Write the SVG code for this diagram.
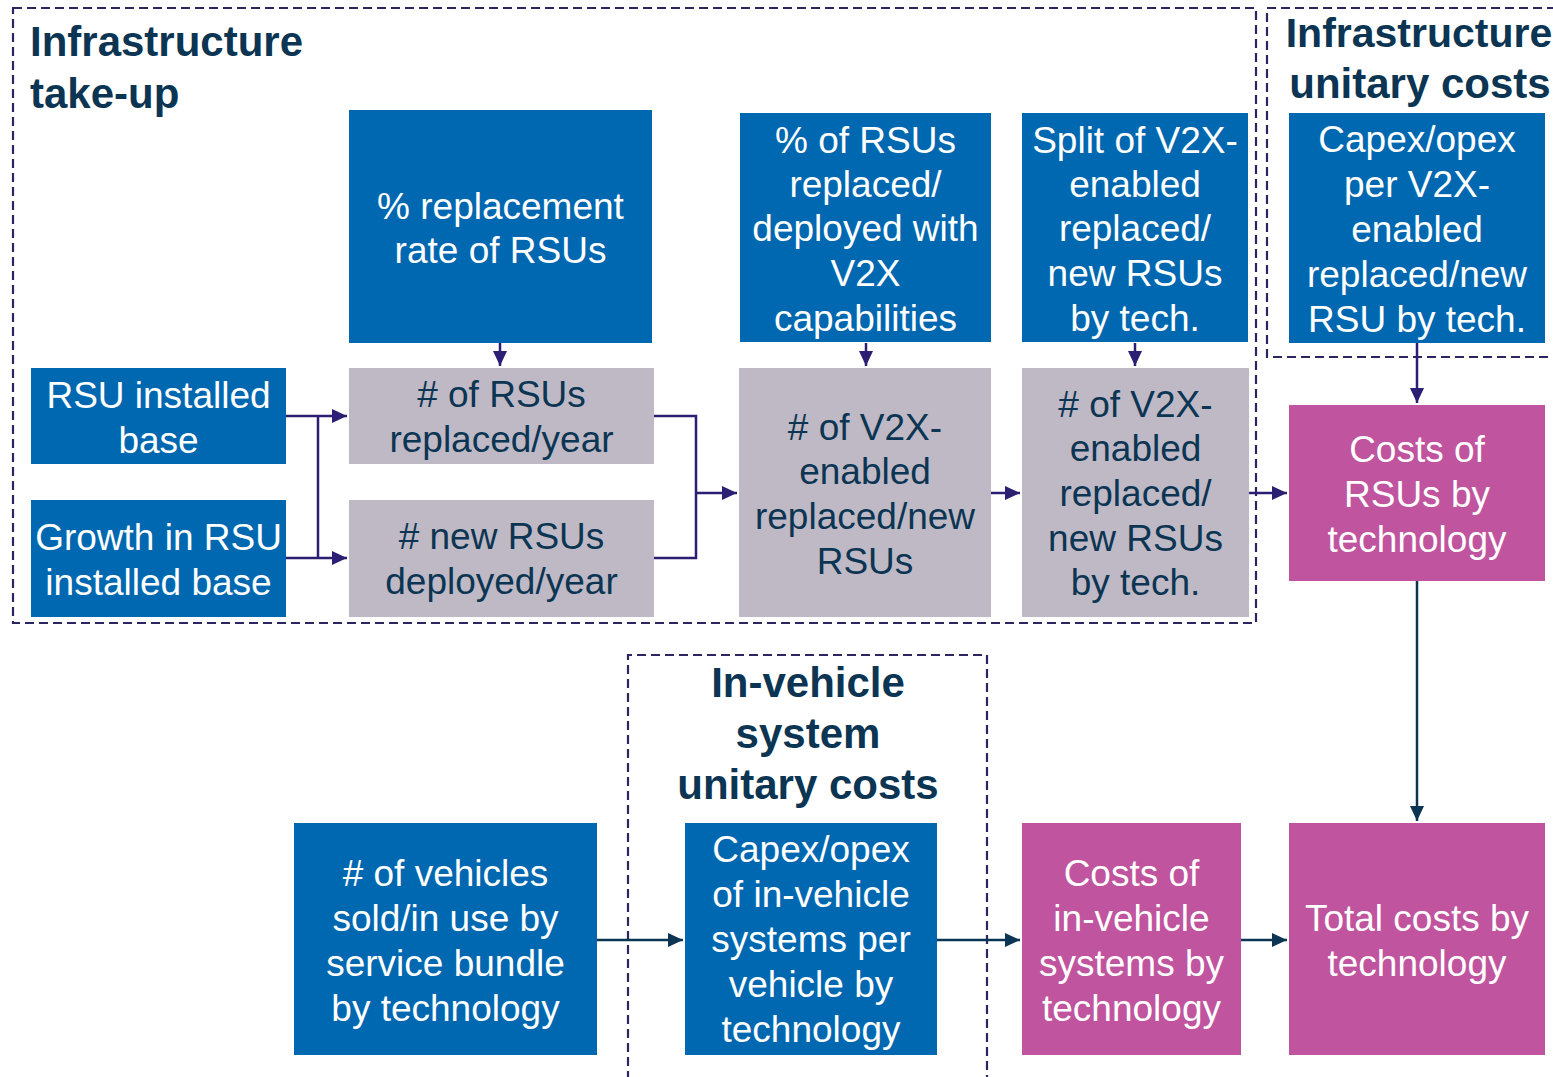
<svg xmlns="http://www.w3.org/2000/svg" width="1553" height="1077" viewBox="0 0 1553 1077">
<style>
text{font-family:"Liberation Sans",Arial,sans-serif;font-size:37px;text-anchor:middle}
.b{fill:#0068B0}
.g{fill:#BFB9C6}
.m{fill:#C0549E}
.tw{fill:#ffffff}
.td{fill:#0B3552}
.title{font-weight:bold;font-size:42px;fill:#0B3552}
.dash{fill:none;stroke:#2B2560;stroke-width:2.2;stroke-dasharray:9 5}
.c1{fill:none;stroke:#2B1F73;stroke-width:2.5}
.c2{fill:none;stroke:#0B3552;stroke-width:2.5}
</style>
<defs>
<marker id="a1" markerUnits="userSpaceOnUse" markerWidth="16" markerHeight="14" refX="15" refY="7" orient="auto"><path d="M0,0 L15,7 L0,14 Z" fill="#2B1F73"/></marker>
<marker id="a2" markerUnits="userSpaceOnUse" markerWidth="16" markerHeight="14" refX="15" refY="7" orient="auto"><path d="M0,0 L15,7 L0,14 Z" fill="#0B3552"/></marker>
</defs>
<rect width="1553" height="1077" fill="#ffffff"/>
<g id="groups">
<rect class="dash" x="13" y="8" width="1243" height="615"/>
<path class="dash" d="M1556,8 H1267 V357 H1556"/>
<path class="dash" d="M628,1080 V655 H987 V1080"/>
<text class="title" x="30" y="56" style="text-anchor:start">Infrastructure</text>
<text class="title" x="30" y="108" style="text-anchor:start">take-up</text>
<text class="title" x="1419" y="47" style="font-size:41px">Infrastructure</text>
<text class="title" x="1420" y="98">unitary costs</text>
<text class="title" x="808" y="697">In-vehicle</text>
<text class="title" x="808" y="748">system</text>
<text class="title" x="808" y="799">unitary costs</text>
</g>
<g id="connectors">
<path class="c1" d="M286,416 H347" marker-end="url(#a1)"/>
<path class="c1" d="M318,416 V558"/>
<path class="c1" d="M286,558 H347" marker-end="url(#a1)"/>
<path class="c1" d="M654,416 H696 V558 H654"/>
<path class="c1" d="M696,493 H737" marker-end="url(#a1)"/>
<path class="c1" d="M500,343 V366" marker-end="url(#a1)"/>
<path class="c1" d="M866,343 V366" marker-end="url(#a1)"/>
<path class="c1" d="M1135,343 V366" marker-end="url(#a1)"/>
<path class="c1" d="M991,493 H1020" marker-end="url(#a1)"/>
<path class="c1" d="M1249,493 H1287" marker-end="url(#a1)"/>
<path class="c1" d="M1417,343 V403" marker-end="url(#a1)"/>
<path class="c2" d="M1417,581 V821" marker-end="url(#a2)"/>
<path class="c2" d="M597,940 H683" marker-end="url(#a2)"/>
<path class="c2" d="M937,940 H1020" marker-end="url(#a2)"/>
<path class="c2" d="M1241,940 H1287" marker-end="url(#a2)"/>
</g>
<g id="rsu-base">
<rect class="b" x="31" y="368" width="255" height="96"/>
<text class="tw" x="158.5" y="408">RSU installed</text>
<text class="tw" x="158.5" y="453">base</text>
</g>
<g id="rsu-growth">
<rect class="b" x="31" y="500" width="255" height="117"/>
<text class="tw" x="158.5" y="550">Growth in RSU</text>
<text class="tw" x="158.5" y="595">installed base</text>
</g>
<g id="replacement-rate">
<rect class="b" x="349" y="110" width="303" height="233"/>
<text class="tw" x="500.5" y="219">% replacement</text>
<text class="tw" x="500.5" y="263">rate of RSUs</text>
</g>
<g id="rsus-replaced">
<rect class="g" x="349" y="368" width="305" height="96"/>
<text class="td" x="501.5" y="407"># of RSUs</text>
<text class="td" x="501.5" y="452">replaced/year</text>
</g>
<g id="rsus-new">
<rect class="g" x="349" y="500" width="305" height="117"/>
<text class="td" x="501.5" y="549"># new RSUs</text>
<text class="td" x="501.5" y="594">deployed/year</text>
</g>
<g id="pct-v2x">
<rect class="b" x="740" y="113" width="251" height="229"/>
<text class="tw" x="865.5" y="153">% of RSUs</text>
<text class="tw" x="865.5" y="197">replaced/</text>
<text class="tw" x="865.5" y="241">deployed with</text>
<text class="tw" x="865.5" y="286">V2X</text>
<text class="tw" x="865.5" y="331">capabilities</text>
</g>
<g id="v2x-enabled">
<rect class="g" x="739" y="368" width="252" height="249"/>
<text class="td" x="865" y="440"># of V2X-</text>
<text class="td" x="865" y="484">enabled</text>
<text class="td" x="865" y="529">replaced/new</text>
<text class="td" x="865" y="574">RSUs</text>
</g>
<g id="split-tech">
<rect class="b" x="1022" y="113" width="226" height="229"/>
<text class="tw" x="1135" y="153">Split of V2X-</text>
<text class="tw" x="1135" y="197">enabled</text>
<text class="tw" x="1135" y="241">replaced/</text>
<text class="tw" x="1135" y="286">new RSUs</text>
<text class="tw" x="1135" y="331">by tech.</text>
</g>
<g id="v2x-by-tech">
<rect class="g" x="1022" y="368" width="227" height="249"/>
<text class="td" x="1135.5" y="417"># of V2X-</text>
<text class="td" x="1135.5" y="461">enabled</text>
<text class="td" x="1135.5" y="506">replaced/</text>
<text class="td" x="1135.5" y="551">new RSUs</text>
<text class="td" x="1135.5" y="595">by tech.</text>
</g>
<g id="capex-rsu">
<rect class="b" x="1289" y="113" width="256" height="230"/>
<text class="tw" x="1417" y="152">Capex/opex</text>
<text class="tw" x="1417" y="197">per V2X-</text>
<text class="tw" x="1417" y="242">enabled</text>
<text class="tw" x="1417" y="287">replaced/new</text>
<text class="tw" x="1417" y="332">RSU by tech.</text>
</g>
<g id="costs-rsu">
<rect class="m" x="1289" y="405" width="256" height="176"/>
<text class="tw" x="1417" y="462">Costs of</text>
<text class="tw" x="1417" y="507">RSUs by</text>
<text class="tw" x="1417" y="552">technology</text>
</g>
<g id="vehicles">
<rect class="b" x="294" y="823" width="303" height="232"/>
<text class="tw" x="445.5" y="886"># of vehicles</text>
<text class="tw" x="445.5" y="931">sold/in use by</text>
<text class="tw" x="445.5" y="976">service bundle</text>
<text class="tw" x="445.5" y="1021">by technology</text>
</g>
<g id="capex-vehicle">
<rect class="b" x="685" y="823" width="252" height="232"/>
<text class="tw" x="811" y="862">Capex/opex</text>
<text class="tw" x="811" y="907">of in-vehicle</text>
<text class="tw" x="811" y="952">systems per</text>
<text class="tw" x="811" y="997">vehicle by</text>
<text class="tw" x="811" y="1042">technology</text>
</g>
<g id="costs-vehicle">
<rect class="m" x="1022" y="823" width="219" height="232"/>
<text class="tw" x="1131.5" y="886">Costs of</text>
<text class="tw" x="1131.5" y="931">in-vehicle</text>
<text class="tw" x="1131.5" y="976">systems by</text>
<text class="tw" x="1131.5" y="1021">technology</text>
</g>
<g id="total-costs">
<rect class="m" x="1289" y="823" width="256" height="232"/>
<text class="tw" x="1417" y="931">Total costs by</text>
<text class="tw" x="1417" y="976">technology</text>
</g>
</svg>
